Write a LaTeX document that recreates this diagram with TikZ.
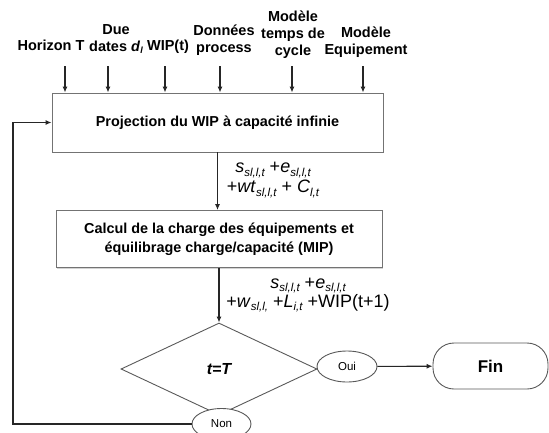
\documentclass[tikz,border=0pt]{standalone}
\usepackage{fontspec}
\setmainfont{Liberation Sans}
\usetikzlibrary{shapes.geometric,arrows.meta,shadows}
\newcommand{\lbsub}[2]{\textit{#1}\raisebox{-0.35ex}{\fontsize{11.5}{11.5}\selectfont\itshape #2}}
\newcommand{\smsub}[2]{\textit{#1}\raisebox{-0.3ex}{\fontsize{9}{9}\selectfont\itshape #2}}

\begin{document}
\begin{tikzpicture}[x=1pt, y=-1pt, >={Latex[length=6pt, width=5pt]}]
            \tikzset{input/.style = {align=center, font=\fontsize{14.5}{17}\selectfont\bfseries, inner sep=0pt}}
            \tikzset{process/.style = {shape=rectangle, draw=black!55, line width=0.9pt, fill=white, align=center,
                drop shadow={shadow xshift=1.2pt, shadow yshift=-1.2pt, opacity=0.35},
                font=\fontsize{14.4}{18.5}\selectfont\bfseries}}
            \tikzset{answer/.style = {shape=ellipse, draw=black!65, line width=0.9pt, fill=white, inner sep=0pt,
                minimum width=60pt, minimum height=31pt, font=\fontsize{11.5}{12}\selectfont}}
            \tikzset{flux/.style = {align=center, inner sep=0pt, font=\fontsize{18}{20}\selectfont}}
            \tikzset{link/.style = {->, draw=black!85, line width=1.1pt}}

            \useasboundingbox (0,0) rectangle (549,432);

            \node[input] (horizon) at (51,45) {Horizon T};
            \node[input] (dates) at (116,39) {Due\\dates \smsub{d}{l}};
            \node[input] (wip) at (168,47) {WIP(t)};
            \node[input] (donnees) at (224,40) {Données\\process};
            \node[input] (cycle) at (293,34.5) {Modèle\\temps de\\cycle};
            \node[input] (equip) at (366,42.5) {Modèle\\Equipement};

            \node[process, minimum width=331pt, minimum height=59pt] (proj) at (217.5,122.5) {Projection du WIP à capacité infinie};
            \node[process, minimum width=326pt, minimum height=57pt] (calc) at (219,239) {Calcul de la charge des équipements et\\équilibrage charge/capacité (MIP)};

            \node[shape=diamond, draw=black!65, line width=0.9pt, inner sep=0pt, minimum width=196pt, minimum height=92pt,
                font=\fontsize{16}{18}\selectfont\bfseries\itshape] (test) at (219,369) {t=T};
            \node[answer] (oui) at (347,366.5) {Oui};
            \node[answer, minimum width=59pt] (non) at (221.5,424) {Non};
            \node[shape=rectangle, rounded corners=21pt, draw=black!65, line width=0.9pt, minimum width=115pt, minimum height=46pt,
                font=\fontsize{17}{18}\selectfont\bfseries] (fin) at (490.5,366) {Fin};

            \node[flux] (charge1) at (273,180) {\lbsub{s}{sl,l,t} +\lbsub{e}{sl,l,t}\\+\lbsub{wt}{sl,l,t} + \lbsub{C}{l,t}};
            \node[flux, font=\fontsize{18}{17}\selectfont] (charge2) at (308,295) {\lbsub{s}{sl,l,t} +\lbsub{e}{sl,l,t}\\+\lbsub{w}{sl,l,} +\lbsub{L}{i,t} +WIP(t+1)};

            \coordinate (in1) at (65,66);
            \coordinate (in2) at (108,66);
            \coordinate (in3) at (165,66);
            \coordinate (in4) at (220,66);
            \coordinate (in5) at (292,66);
            \coordinate (in6) at (363,66);
            \coordinate (back) at (13,424);

            \foreach \i in {1,...,6}
                \draw[link] (in\i) -- (in\i |- proj.north);

            \draw[link] (proj.south) -- (proj.south |- calc.north);
            \draw[link] (calc.south) -- (test.north);
            \draw[link] (oui) -- (fin);
            \draw[link] (non.west) -- (back) |- (proj.west);
        \end{tikzpicture}
\end{document}
